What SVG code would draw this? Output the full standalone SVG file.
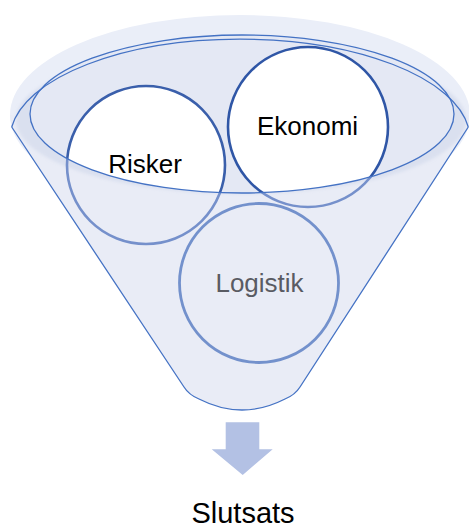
<svg xmlns="http://www.w3.org/2000/svg" width="469" height="529" viewBox="0 0 469 529">
  <style>
    .lbl { font-family: "Liberation Sans", Arial, sans-serif; font-size: 26px; text-anchor: middle; }
    .edge { fill: none; stroke: #4472c4; stroke-width: 1.3; }
  </style>
  <defs>
    <path id="frontPath" d="M 11.7,127 L 184,387 Q 189,395 199,399 Q 242,421 285,399 Q 295,395 300,387 L 468.3,127 L 470,115 L 454,114 A 212 79 0 0 1 30,114 L 10,115 Z"/>
    <clipPath id="frontClip"><use href="#frontPath"/></clipPath>
    <clipPath id="outerClip"><ellipse cx="240" cy="115" rx="229" ry="99"/></clipPath>
    <mask id="outsideInner">
      <rect x="0" y="0" width="469" height="529" fill="#fff"/>
      <ellipse cx="242" cy="114" rx="212" ry="79" fill="#000"/>
    </mask>
    <filter id="soft" x="-10%" y="-10%" width="120%" height="120%">
      <feGaussianBlur stdDeviation="1.5"/>
    </filter>
  </defs>

  <g id="funnel">
    <ellipse cx="240" cy="115" rx="230" ry="100" fill="#eaeef8"/>
    <ellipse cx="242" cy="114" rx="212" ry="79" fill="#e4e8f4"/>
  </g>

  <g id="risker-back">
    <circle cx="146" cy="165" r="79" fill="#ffffff" stroke="#3a5fab" stroke-width="2.6"/>
  </g>
  <g id="ekonomi-back">
    <circle cx="308" cy="127" r="80" fill="#ffffff" stroke="#2f56a6" stroke-width="2.6"/>
  </g>

  <g id="funnel-front">
    <use href="#frontPath" fill="#e9ecf6"/>
    <g clip-path="url(#outerClip)">
      <g mask="url(#outsideInner)">
        <ellipse cx="241" cy="120" rx="225" ry="74" fill="#dae0ef" filter="url(#soft)"/>
      </g>
    </g>
    <g clip-path="url(#frontClip)">
      <g mask="url(#outsideInner)">
        <circle cx="146" cy="165" r="79" fill="none" stroke="#7590cb" stroke-width="2.6"/>
        <circle cx="308" cy="127" r="80" fill="none" stroke="#7590cb" stroke-width="2.6"/>
      </g>
    </g>
  </g>

  <g id="logistik">
    <circle cx="259" cy="283" r="79.5" fill="none" stroke="#7391cc" stroke-width="2.8"/>
    <text class="lbl" x="259.5" y="292" fill="#595b63">Logistik</text>
  </g>

  <g id="outlines">
    <ellipse cx="242" cy="114" rx="212" ry="79" class="edge"/>
    <path class="edge" d="M 11.7,127 A 230 100 0 0 1 468.3,127"/>
    <path class="edge" d="M 11.7,127 L 184,387 Q 189,395 199,399 Q 242,421 285,399 Q 295,395 300,387 L 468.3,127"/>
  </g>

  <g id="risker">
    <text class="lbl" x="145" y="173" fill="#000">Risker</text>
  </g>
  <g id="ekonomi">
    <text class="lbl" x="307.5" y="135" fill="#000">Ekonomi</text>
  </g>

  <g id="connectors">
    <path d="M 225.7,422.3 L 259.3,422.3 L 259.3,449.3 L 272.7,449.3 L 242.7,475 L 211.7,449.3 L 225.7,449.3 Z" fill="#b3c1e4"/>
  </g>

  <g id="slutsats">
    <text x="243" y="522.5" font-family="'Liberation Sans', Arial, sans-serif" font-size="29" text-anchor="middle" fill="#000">Slutsats</text>
  </g>
</svg>
